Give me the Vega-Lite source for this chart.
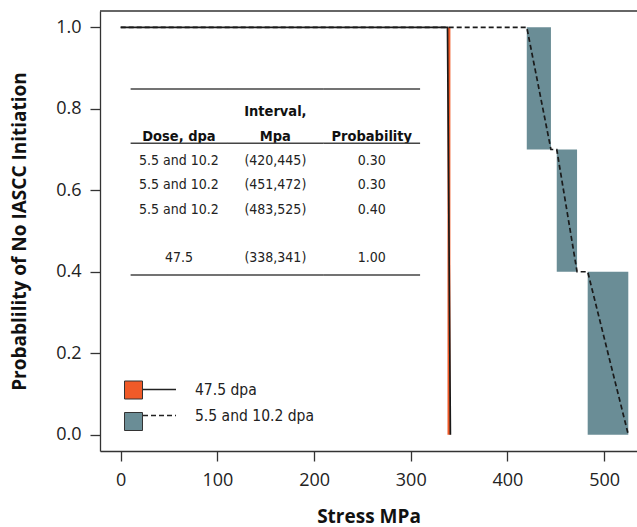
{
  "$schema": "https://vega.github.io/schema/vega-lite/v6.json",
  "width": 537,
  "height": 440,
  "autosize": {"type": "none"},
  "padding": {"left": 100, "top": 11, "right": 0, "bottom": 76},
  "background": "white",
  "config": {
    "view": {"stroke": null},
    "axis": {
      "grid": false,
      "domainColor": "#333333",
      "domainWidth": 1.3,
      "tickColor": "#333333",
      "tickWidth": 1.3,
      "tickSize": 10,
      "labelFont": "Open Sans",
      "labelFontSize": 18,
      "labelColor": "#222222",
      "titleFont": "Open Sans",
      "titleFontSize": 19,
      "titleFontWeight": "bold",
      "titleColor": "#111111"
    }
  },
  "datasets": {
    "curve": [
      {"dose": "47.5 dpa", "stress": 0, "prob": 1},
      {"dose": "47.5 dpa", "stress": 338, "prob": 1},
      {"dose": "47.5 dpa", "stress": 341, "prob": 0},
      {"dose": "5.5 and 10.2 dpa", "stress": 0, "prob": 1},
      {"dose": "5.5 and 10.2 dpa", "stress": 420, "prob": 1},
      {"dose": "5.5 and 10.2 dpa", "stress": 445, "prob": 0.7},
      {"dose": "5.5 and 10.2 dpa", "stress": 451, "prob": 0.7},
      {"dose": "5.5 and 10.2 dpa", "stress": 472, "prob": 0.4},
      {"dose": "5.5 and 10.2 dpa", "stress": 483, "prob": 0.4},
      {"dose": "5.5 and 10.2 dpa", "stress": 525, "prob": 0}
    ],
    "intervals": [
      {"series": "47.5", "lo": 338, "hi": 341, "pLo": 0, "pHi": 1},
      {"series": "5.5 and 10.2", "lo": 420, "hi": 445, "pLo": 0.7, "pHi": 1},
      {"series": "5.5 and 10.2", "lo": 451, "hi": 472, "pLo": 0.4, "pHi": 0.7},
      {"series": "5.5 and 10.2", "lo": 483, "hi": 525, "pLo": 0, "pHi": 0.4}
    ],
    "table": [
      {"row": "r1", "dose": "5.5 and 10.2", "interval": "(420,445)", "probability": "0.30"},
      {"row": "r2", "dose": "5.5 and 10.2", "interval": "(451,472)", "probability": "0.30"},
      {"row": "r3", "dose": "5.5 and 10.2", "interval": "(483,525)", "probability": "0.40"},
      {"row": "r4", "dose": "47.5", "interval": "(338,341)", "probability": "1.00"}
    ],
    "header": [
      {"row": "header", "key": "dose", "text": "Dose, dpa"},
      {"row": "hdr0", "key": "interval", "text": "Interval,"},
      {"row": "header", "key": "interval", "text": "Mpa"},
      {"row": "header", "key": "probability", "text": "Probability"}
    ],
    "cols": [
      {"key": "dose"},
      {"key": "interval"},
      {"key": "probability"}
    ]
  },
  "layer": [
    {
      "layer": [
        {
          "data": {"name": "intervals"},
          "mark": {"type": "rect"},
          "encoding": {
            "x": {
              "field": "lo", "type": "quantitative",
              "scale": {"domain": [-21.4, 534], "nice": false, "zero": false},
              "axis": {"values": [0, 100, 200, 300, 400, 500], "title": "Stress MPa", "labelPadding": 10, "titlePadding": 18}
            },
            "x2": {"field": "hi"},
            "y": {
              "field": "pLo", "type": "quantitative",
              "scale": {"domain": [-0.04, 1.04], "nice": false, "zero": false},
              "axis": {"values": [0, 0.2, 0.4, 0.6, 0.8, 1], "format": ".1f", "title": "Probablility of No IASCC Initiation", "labelPadding": 9, "titlePadding": 26}
            },
            "y2": {"field": "pHi"},
            "fill": {
              "field": "series", "type": "nominal",
              "scale": {"domain": ["47.5", "5.5 and 10.2"], "range": ["#f05a28", "#6a8d96"]},
              "legend": {
                "orient": "none", "legendX": 24, "legendY": 369.5, "title": null,
                "symbolType": "square", "symbolSize": 324, "symbolStrokeColor": "#333333", "symbolStrokeWidth": 1,
                "symbolOpacity": 1, "labelExpr": "''", "labelFontSize": 8, "rowPadding": 8.5, "padding": 0
              }
            }
          }
        },
        {
          "data": {"name": "curve"},
          "mark": {"type": "line", "color": "#1a1a1a", "strokeWidth": 1.7},
          "encoding": {
            "x": {"field": "stress", "type": "quantitative"},
            "y": {"field": "prob", "type": "quantitative"},
            "strokeDash": {
              "field": "dose", "type": "nominal",
              "scale": {"domain": ["47.5 dpa", "5.5 and 10.2 dpa"], "range": [[1, 0], [5, 3]]},
              "legend": {
                "orient": "none", "legendX": 42, "legendY": 361, "title": null,
                "symbolType": "stroke", "symbolSize": 1089, "symbolStrokeColor": "#222222", "symbolStrokeWidth": 1.5,
                "rowPadding": -7.5, "labelOffset": 18, "padding": 0,
                "labelFont": "Liberation Sans Narrow, DejaVu Sans Condensed, sans-serif", "labelFontSize": 15.5, "labelColor": "#222222"
              }
            }
          }
        },
        {
          "data": {"values": [{}]},
          "mark": {"type": "rule", "color": "#333333", "strokeWidth": 1.3},
          "encoding": {"y": {"datum": 1.04, "type": "quantitative"}}
        }
      ]
    },
    {
      "layer": [
        {
          "data": {"name": "table"},
          "transform": [{"fold": ["dose", "interval", "probability"], "as": ["key", "value"]}],
          "mark": {"type": "text", "font": "Liberation Sans Narrow, DejaVu Sans Condensed, sans-serif", "fontSize": 14, "color": "#222222", "baseline": "alphabetic", "align": "center"},
          "encoding": {
            "x": {"field": "key", "type": "nominal", "scale": {"type": "band", "domain": ["dose", "interval", "probability"], "range": [30.7, 320], "paddingInner": 0, "paddingOuter": 0}, "axis": null},
            "y": {"field": "row", "type": "nominal", "scale": {"type": "point", "domain": ["hdr0", "header", "r1", "r2", "r3", "gap", "r4"], "range": [105.3, 251.3], "padding": 0}, "axis": null},
            "text": {"field": "value"}
          }
        },
        {
          "data": {"name": "header"},
          "mark": {"type": "text", "font": "Liberation Sans Narrow, DejaVu Sans Condensed, sans-serif", "fontSize": 14.5, "fontWeight": "bold", "color": "#111111", "baseline": "alphabetic", "align": "center"},
          "encoding": {
            "x": {"field": "key", "type": "nominal"},
            "y": {"field": "row", "type": "nominal"},
            "text": {"field": "text"}
          }
        },
        {
          "data": {"name": "cols"},
          "mark": {"type": "tick", "orient": "horizontal", "size": 96.6, "thickness": 1.5, "color": "#444444", "opacity": 1, "yOffset": -27.3},
          "encoding": {
            "x": {"field": "key", "type": "nominal"},
            "y": {"datum": "hdr0", "type": "nominal"}
          }
        },
        {
          "data": {"name": "cols"},
          "mark": {"type": "tick", "orient": "horizontal", "size": 96.6, "thickness": 1.5, "color": "#444444", "opacity": 1, "yOffset": 2.6},
          "encoding": {
            "x": {"field": "key", "type": "nominal"},
            "y": {"datum": "header", "type": "nominal"}
          }
        },
        {
          "data": {"name": "cols"},
          "mark": {"type": "tick", "orient": "horizontal", "size": 96.6, "thickness": 1.5, "color": "#444444", "opacity": 1, "yOffset": 12.7},
          "encoding": {
            "x": {"field": "key", "type": "nominal"},
            "y": {"datum": "r4", "type": "nominal"}
          }
        }
      ]
    }
  ],
  "resolve": {"scale": {"x": "independent", "y": "independent"}, "axis": {"x": "independent", "y": "independent"}}
}
